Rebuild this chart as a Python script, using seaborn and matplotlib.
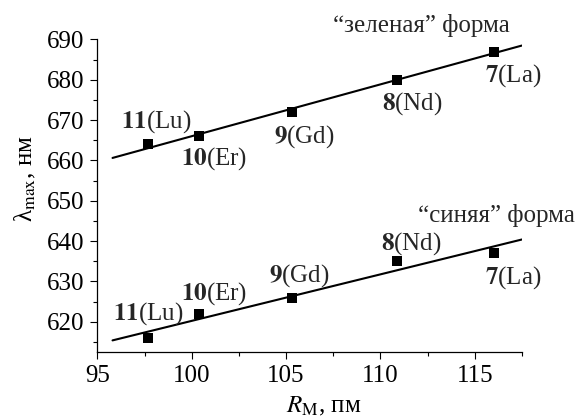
import numpy as np
import pandas as pd
import seaborn as sns
import matplotlib.pyplot as plt
from matplotlib.ticker import MultipleLocator

# Data
radius = [97.7, 100.4, 105.3, 110.9, 116.0]          # R_M, pm
green = [664, 666, 672, 680, 687]                     # lambda_max, nm ("green" form)
blue = [616, 622, 626, 635, 637]                      # lambda_max, nm ("blue" form)
numbers = ['11', '10', '9', '8', '7']
metals = ['Lu', 'Er', 'Gd', 'Nd', 'La']

sns.set_theme(style='ticks')
plt.rcParams['font.family'] = 'serif'
plt.rcParams['font.serif'] = ['Liberation Serif', 'DejaVu Serif']
plt.rcParams['mathtext.fontset'] = 'stix'

FS = 18

fig = plt.figure(figsize=(5.87, 4.2), dpi=100)
ax = fig.add_axes([0.166, 0.162, 0.723, 0.744])

df = pd.DataFrame({'R': radius * 2, 'lam': green + blue,
                   'form': ['green'] * 5 + ['blue'] * 5})
sns.scatterplot(data=df, x='R', y='lam', marker='s', s=55, color='black',
                edgecolor='black', linewidth=0, legend=False, ax=ax)

# linear fits
xfit = np.array([95.8, 117.5])
for ys in (green, blue):
    k, b = np.polyfit(radius, ys, 1)
    sns.lineplot(x=xfit, y=k * xfit + b, color='black', linewidth=1.5, ax=ax)

# labels (offsets in pixels from each point)
green_off = [(-27, 23), (-18, -22), (-18, -25), (-15, -24), (-9, -24)]
blue_off = [(-35, 24), (-18, 20), (-23, 22), (-16, 18), (-9, -24)]
for ys, offs in ((green, green_off), (blue, blue_off)):
    for x, y, n, m, (dx, dy) in zip(radius, ys, numbers, metals, offs):
        ax.annotate(r'$\mathbf{%s}$(%s)' % (n, m), (x, y), xytext=(dx, dy),
                    textcoords='offset pixels', ha='left', va='center',
                    fontsize=FS)

ax.text(107.5, 693.5, '“зеленая” форма', fontsize=FS, ha='left', va='center',
        clip_on=False)
ax.text(112.0, 646.4, '“синяя” форма', fontsize=FS, ha='left', va='center',
        clip_on=False)

ax.set_xlim(95, 117.5)
ax.set_ylim(612.5, 690)
ax.xaxis.set_major_locator(MultipleLocator(5))
ax.xaxis.set_minor_locator(MultipleLocator(2.5))
ax.yaxis.set_major_locator(MultipleLocator(10))
ax.yaxis.set_minor_locator(MultipleLocator(5))
ax.tick_params(which='major', direction='out', length=5, width=0.8,
               labelsize=FS, color='black', labelcolor='black', pad=4.5)
ax.tick_params(which='minor', direction='out', length=3, width=0.8,
               color='black')
for s in ('left', 'bottom'):
    ax.spines[s].set_color('black')
    ax.spines[s].set_linewidth(0.9)
sns.despine(ax=ax)

ax.set_xlabel(r'$R_{\mathrm{M}}$, пм', fontsize=FS, color='black')
ax.set_ylabel(r'λ$_{\mathrm{max}}$, нм', fontsize=FS, color='black')
ax.xaxis.set_label_coords(0.534, -0.138)
ax.yaxis.set_label_coords(-0.14, 0.555)

fig.savefig('out.png', dpi=100)
